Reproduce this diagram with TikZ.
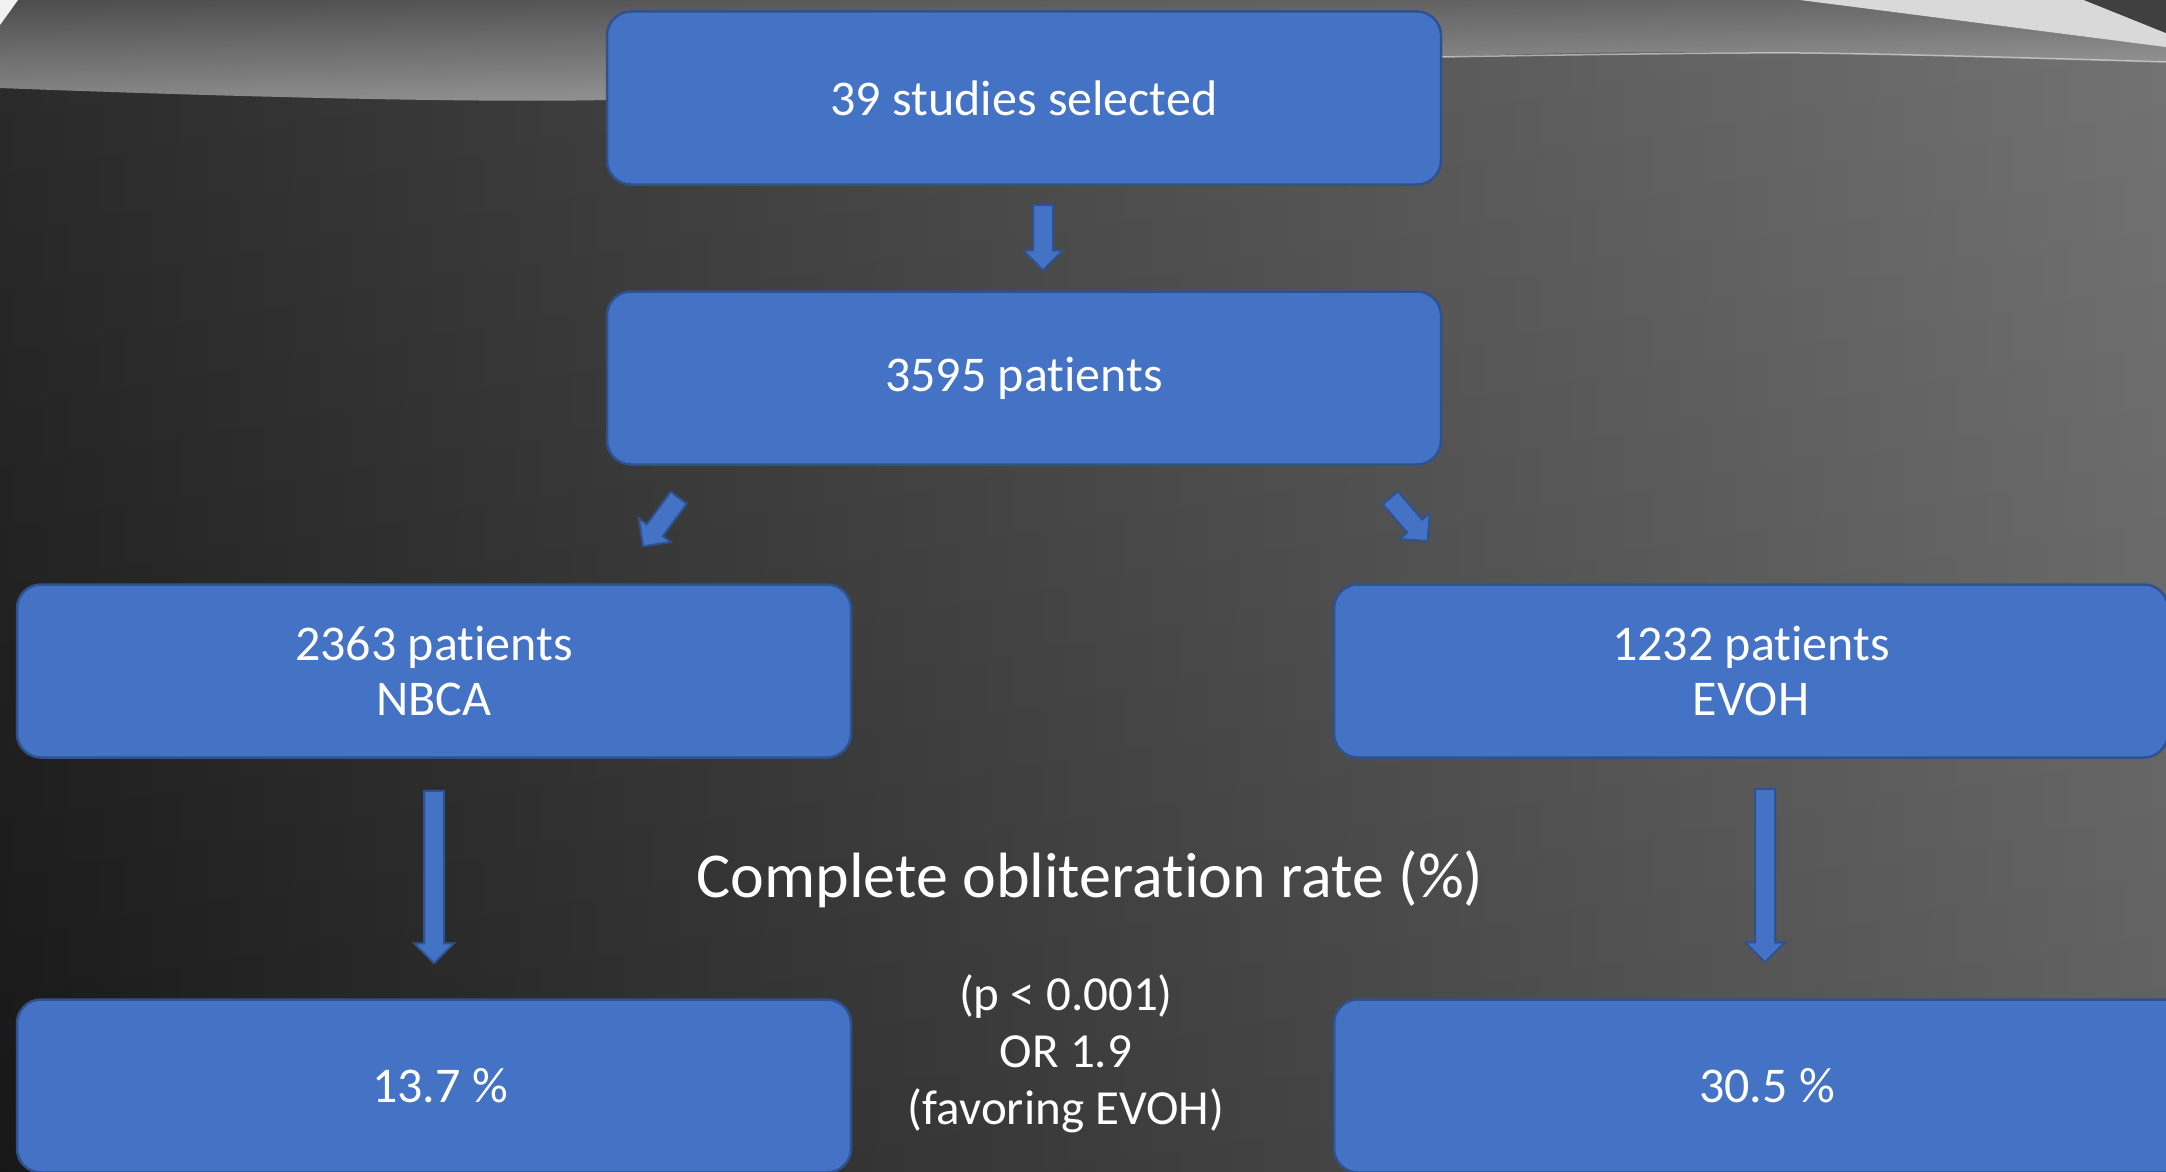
\documentclass[tikz,border=0pt]{standalone}
\usepackage{fontspec}
\setmainfont{Carlito}[Ligatures=NoCommon]
\usetikzlibrary{calc}
\definecolor{boxblue}{RGB}{68,114,196}
\definecolor{boxedge}{RGB}{47,82,143}
\definecolor{bgdark}{RGB}{26,26,26}
\definecolor{bglight}{RGB}{104,104,104}
\definecolor{bandtop}{RGB}{88,88,88}
\definecolor{bandbot}{RGB}{158,158,158}
\tikzset{
  flowbox/.style={rectangle, rounded corners=24, draw=boxedge, line width=2.5,
    fill=boxblue, text=white, align=center, minimum width=834, minimum height=173,
    inner sep=0, font=\fontsize{50}{55}\selectfont},
  blockarrow/.style={draw=boxedge, line width=2, fill=boxblue, to path={
    let \p1=(\tikztostart), \p2=(\tikztotarget),
        \n1={atan2(\y2-\y1,\x2-\x1)}, \n2={veclen(\x2-\x1,\y2-\y1)} in
    [shift={(\p1)}, rotate=\n1]
    (0,-10) -- (\n2-20,-10) -- (\n2-20,-20) -- (\n2,0) -- (\n2-20,20) -- (\n2-20,10) -- (0,10) -- cycle}},
}
\begin{document}
\begin{tikzpicture}[x=1pt,y=1pt]
\useasboundingbox (0,0) rectangle (2166,-1172);
\clip (0,0) rectangle (2166,-1172);
\shade[left color=bgdark, right color=bglight] (0,0) rectangle (2166,-1172);
\shade[top color=white, bottom color=black, opacity=0.08] (0,0) rectangle (2166,-1172);
\shade[top color=bandtop, bottom color=bandbot] (0,0) -- plot[smooth] coordinates {(0,-88) (608,-100) (1441,-57) (1800,-53) (2166,-62)} -- (2166,0) -- cycle;
\shade[left color=black, right color=white, opacity=0.12] (0,0) -- plot[smooth] coordinates {(0,-88) (608,-100) (1441,-57) (1800,-53) (2166,-62)} -- (2166,0) -- cycle;
\draw[white, opacity=0.5, line width=1.5] plot[smooth] coordinates {(1441,-57) (1800,-53) (2166,-62)};
\fill[gray!30] (1800,0) -- (2166,-47) -- (2166,-33) -- (2084,0) -- cycle;
\fill[black!75] (2084,0) -- (2166,-33) -- (2166,0) -- cycle;
\fill[white!90!gray] (0,0) -- (18,0) -- (0,-25) -- cycle;

\node[flowbox] (s39) at (1024,-98) {39 studies selected};
\node[flowbox] (p3595) at (1024,-378) {3595 patients};
\node[flowbox] (nbca) at (434,-671) {2363 patients\\NBCA};
\node[flowbox] (evoh) at (1751,-671) {1232 patients\\EVOH};
\node[flowbox] (r137) at (434,-1086) {\hspace*{12pt}13.7 \%};
\node[flowbox, minimum width=866] (r305) at (1767,-1086) {30.5 \%};
\node[text=white, font=\fontsize{64}{70}\selectfont] (rate) at (1090,-879) {Complete obliteration rate (\%)};
\node[text=white, align=center, font=\fontsize{49}{57}\selectfont] (stats) at (1066,-1054) {(p < 0.001)\\OR 1.9\\(favoring EVOH)};

\draw[blockarrow] ($(s39.south)+(19,-19)$) to ($(p3595.north)+(19,20)$);
\draw[blockarrow] ($(p3595.south west)+(73,-32)$) to ($(nbca.north)+(209,37)$);
\draw[blockarrow] ($(p3595.south east)+(-52,-32)$) to ($(evoh.north west)+(95,42)$);
\draw[blockarrow] ($(nbca.south)+(0,-32)$) to ($(r137.north)+(0,35)$);
\draw[blockarrow] ($(evoh.south)+(14,-30)$) to ($(r305.north)+(-2,36)$);
\end{tikzpicture}
\end{document}
